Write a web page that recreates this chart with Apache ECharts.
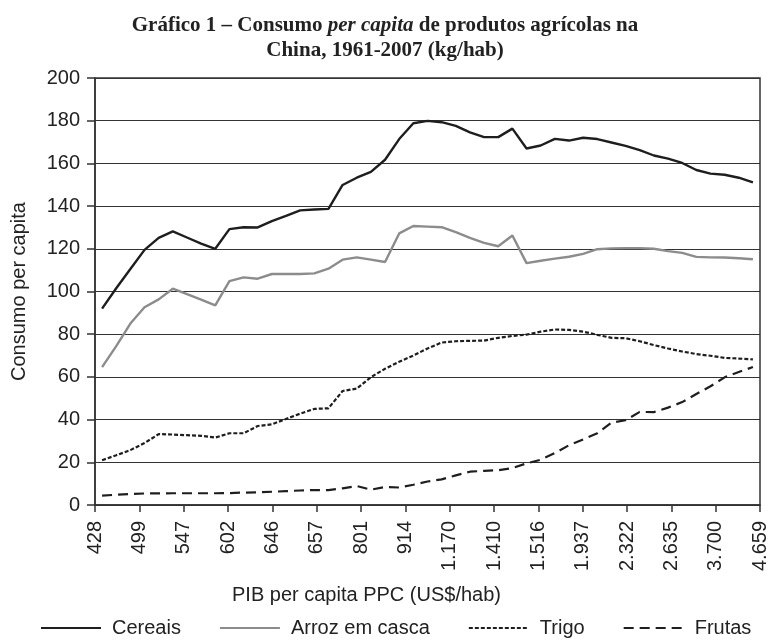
<!DOCTYPE html>
<html>
<head>
<meta charset="utf-8">
<script src="https://cdn.jsdelivr.net/npm/echarts@6/dist/echarts.min.js"></script>
<style>
  body { margin: 0; background: #fff; }
  #chart { width: 770px; height: 641px; }
</style>
</head>
<body>
<div id="chart"></div>
<script>
// anos da série (1961-2007)
const years = [];
for (let y = 1961; y <= 2007; y++) years.push(String(y));

// rótulos do eixo x: PIB per capita PPC
const gdpLabels = ['428', '499', '547', '602', '646', '657', '801', '914',
    '1.170', '1.410', '1.516', '1.937', '2.322', '2.635', '3.700', '4.659'];

const cereais = [92.0, 101.5, 110.5, 119.5, 125.1, 128.2, 125.3, 122.4, 120.0, 129.2,
    130.1, 130.0, 133.0, 135.4, 138.0, 138.4, 138.7, 149.9, 153.3, 156.0,
    161.7, 171.4, 178.8, 179.9, 179.3, 177.6, 174.5, 172.3, 172.3, 176.3,
    167.0, 168.4, 171.5, 170.7, 172.0, 171.4, 169.8, 168.2, 166.2, 163.7,
    162.2, 160.2, 156.9, 155.2, 154.7, 153.3, 151.1];

const arroz = [64.6, 74.4, 85.0, 92.6, 96.3, 101.3, 98.8, 96.2, 93.5, 104.9,
    106.6, 106.0, 108.2, 108.2, 108.2, 108.5, 110.7, 114.9, 116.0, 114.9,
    113.8, 127.2, 130.7, 130.4, 130.1, 127.8, 125.1, 122.8, 121.2, 126.2,
    113.3, 114.4, 115.4, 116.3, 117.6, 119.8, 120.2, 120.3, 120.3, 120.0,
    118.9, 118.1, 116.2, 116.0, 115.9, 115.6, 115.1];

const trigo = [21.0, 23.3, 25.7, 29.0, 33.2, 33.0, 32.7, 32.4, 31.6, 33.6,
    33.6, 37.0, 37.8, 40.3, 42.8, 45.0, 45.3, 53.4, 54.5, 59.9,
    63.8, 67.1, 70.0, 73.3, 76.1, 76.7, 76.9, 77.0, 78.3, 79.2,
    79.8, 81.2, 82.2, 82.0, 81.2, 79.7, 78.3, 78.1, 76.7, 74.9,
    73.3, 71.9, 70.7, 69.9, 68.9, 68.6, 68.2];

const frutas = [4.4, 4.8, 5.2, 5.4, 5.4, 5.5, 5.5, 5.5, 5.5, 5.6,
    5.8, 5.9, 6.2, 6.5, 6.8, 7.0, 7.0, 7.8, 8.9, 7.2,
    8.4, 8.2, 9.5, 11.0, 12.0, 13.9, 15.6, 16.0, 16.3, 17.3,
    19.5, 21.2, 24.3, 28.0, 30.7, 33.6, 38.6, 39.7, 43.6, 43.5,
    45.6, 48.2, 52.0, 55.6, 59.8, 62.3, 64.6];

const font = 'Liberation Sans, Arial, sans-serif';
const serif = 'Liberation Serif, serif';
const ink = '#222';

const chart = echarts.init(document.getElementById('chart'));

chart.setOption({
    animation: false,
    title: {
        left: 'center',
        top: 8,
        text: '{b|Gráfico 1 – Consumo }{i|per capita}{b| de produtos agrícolas na}\n{b|China, 1961-2007 (kg/hab)}',
        textStyle: {
            rich: {
                b: { fontFamily: serif, fontWeight: 'bold', fontSize: 21, lineHeight: 25, color: ink },
                i: { fontFamily: serif, fontWeight: 'bold', fontStyle: 'italic', fontSize: 21, lineHeight: 25, color: ink }
            }
        }
    },
    legend: {
        left: 35,
        top: 613,
        itemWidth: 60,
        itemHeight: 20,
        itemGap: 38,
        itemStyle: { opacity: 0 },
        textStyle: { fontFamily: font, fontSize: 20, color: ink, padding: [0, 0, 0, 6] },
        data: ['Cereais', 'Arroz em casca', 'Trigo', 'Frutas']
    },
    grid: {
        left: 95,
        right: 10,
        top: 78,
        bottom: 136,
        show: true,
        borderColor: '#333',
        borderWidth: 1.5
    },
    xAxis: [
        {
            type: 'category',
            data: years,
            boundaryGap: true,
            show: false
        },
        {
            type: 'category',
            data: gdpLabels,
            position: 'bottom',
            boundaryGap: false,
            name: 'PIB per capita PPC (US$/hab)',
            nameLocation: 'middle',
            nameGap: 80,
            nameTextStyle: { fontFamily: font, fontSize: 20, color: ink, padding: [0, 122, 0, 0] },
            axisLine: { lineStyle: { color: '#333', width: 1.5 } },
            axisTick: { length: 7, interval: 0, lineStyle: { color: '#333', width: 1.5 } },
            axisLabel: { rotate: 90, interval: 0, margin: 16, fontFamily: font, fontSize: 20, color: ink },
            splitLine: { show: false }
        }
    ],
    yAxis: {
        type: 'value',
        min: 0,
        max: 200,
        interval: 20,
        name: 'Consumo per capita',
        nameLocation: 'middle',
        nameGap: 66,
        nameTextStyle: { fontFamily: font, fontSize: 20, color: ink },
        axisLine: { show: true, lineStyle: { color: '#333', width: 1.5 } },
        axisTick: { show: true, length: 8, lineStyle: { color: '#333', width: 1.5 } },
        axisLabel: { margin: 15, fontFamily: font, fontSize: 20, color: ink },
        splitLine: { lineStyle: { color: '#333', width: 1.2 } }
    },
    series: [
        {
            name: 'Cereais',
            type: 'line',
            xAxisIndex: 0,
            data: cereais,
            symbol: 'none',
            lineStyle: { color: '#1e1e1e', width: 2.4 },
            itemStyle: { color: '#1e1e1e' }
        },
        {
            name: 'Arroz em casca',
            type: 'line',
            xAxisIndex: 0,
            data: arroz,
            symbol: 'none',
            lineStyle: { color: '#8c8c8c', width: 2.4 },
            itemStyle: { color: '#8c8c8c' }
        },
        {
            name: 'Trigo',
            type: 'line',
            xAxisIndex: 0,
            data: trigo,
            symbol: 'none',
            lineStyle: { color: '#1e1e1e', width: 2.2, type: [4, 2] },
            itemStyle: { color: '#1e1e1e' }
        },
        {
            name: 'Frutas',
            type: 'line',
            xAxisIndex: 0,
            data: frutas,
            symbol: 'none',
            lineStyle: { color: '#1e1e1e', width: 2.2, type: [10, 6] },
            itemStyle: { color: '#1e1e1e' }
        }
    ]
});

window.addEventListener('resize', () => chart.resize());
</script>
</body>
</html>
